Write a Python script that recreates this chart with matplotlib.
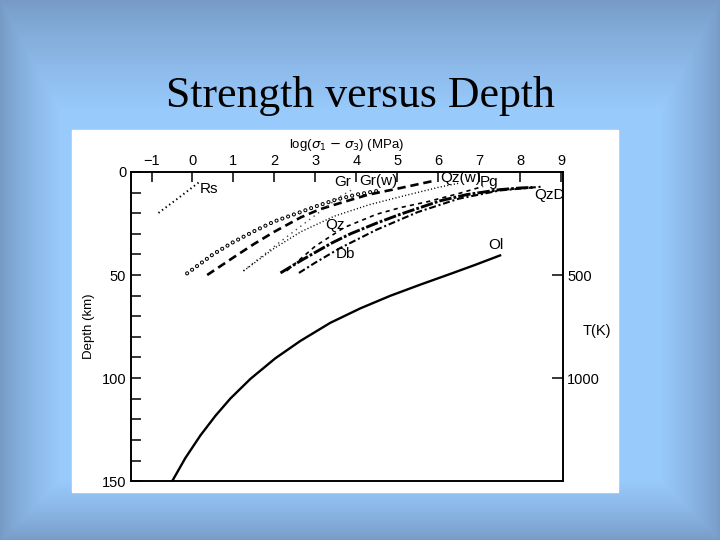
import numpy as np
import matplotlib
matplotlib.use("Agg")
import matplotlib.pyplot as plt
from matplotlib.patches import Rectangle

plt.rcParams["font.family"] = ["Liberation Sans", "DejaVu Sans"]
plt.rcParams["lines.scale_dashes"] = False

# curves: x = log(sigma1 - sigma3) (MPa), d = depth (km)
rs_x = [-0.83, -0.3, 0.2]
rs_d = [19.9, 12.0, 4.4]

grw_x = [-0.13, 0.5, 1.0, 1.5, 2.0, 2.65, 3.0, 3.46, 4.0, 4.6]
grw_d = [49.2, 40.0, 34.0, 28.8, 24.0, 19.4, 16.8, 13.7, 11.0, 8.9]

qzw_x = [0.36, 1.0, 1.5, 2.0, 2.65, 3.1, 3.62, 4.3, 5.08, 5.9]
qzw_d = [50.0, 41.5, 35.0, 29.0, 22.0, 18.2, 15.0, 11.0, 7.8, 4.3]

gr_x = [1.24, 2.07, 2.8, 3.3, 3.6, 3.95]
gr_d = [48.0, 35.0, 24.0, 16.5, 12.0, 8.0]

qz_x = [1.25, 2.0, 2.65, 3.46, 4.3, 5.08, 6.0, 6.5]
qz_d = [48.0, 37.0, 29.0, 21.5, 16.0, 12.0, 7.5, 5.5]

pg_x = [2.3, 3.0, 3.7, 4.5, 5.1, 5.73, 6.5, 7.1]
pg_d = [48.0, 36.0, 27.0, 20.5, 17.2, 14.5, 10.5, 7.0]

qzd_x = [2.15, 2.65, 3.0, 3.4, 3.86, 4.5, 5.08, 6.05, 6.7, 7.5, 8.0, 8.3]
qzd_d = [49.0, 43.0, 39.0, 34.5, 30.0, 24.8, 20.5, 14.0, 11.0, 8.6, 7.8, 7.5]

db_x = [2.6, 3.0, 3.6, 4.5, 5.5, 6.5, 7.5, 8.5]
db_d = [49.0, 44.0, 37.0, 28.0, 19.5, 13.0, 9.0, 7.2]

ol_x = [-0.495, -0.171, 0.195, 0.561, 0.927, 1.415, 2.024, 2.634,
        3.366, 4.098, 4.829, 5.561, 6.293, 6.902, 7.512]
ol_d = [150, 138.7, 127.8, 118.3, 109.9, 100.4, 90.4, 82.0,
        73.2, 66.2, 60.1, 54.7, 49.5, 45.1, 40.5]

labels = ["Rs", "Gr", "Gr(w)", "Qz(w)", "Pg", "QzD", "Qz", "Db", "Ol"]
label_x = [0.4, 3.68, 4.54, 6.56, 7.24, 8.73, 3.49, 3.73, 7.41]
label_d = [8.3, 4.9, 4.4, 2.9, 4.9, 11.2, 25.7, 39.8, 35.4]

x_ticks = [-1, 0, 1, 2, 3, 4, 5, 6, 7, 8, 9]
depth_ticks = [0, 50, 100, 150]
temp_ticks = [500, 1000]

fig = plt.figure(figsize=(7.2, 5.4), dpi=100)

# slide background: light blue centre, darker frame
bg = fig.add_axes([0, 0, 1, 1])
h, w = 540, 720
yy, xx = np.mgrid[0:h, 0:w]
dist = np.minimum.reduce([xx / 60.0, (w - xx) / 60.0, yy / 110.0, (h - yy) / 60.0])
t = np.clip(dist, 0, 1) ** 0.8
edge = np.array([118, 154, 196]) / 255.0
centre = np.array([152, 202, 252]) / 255.0
img = edge[None, None, :] * (1 - t[..., None]) + centre[None, None, :] * t[..., None]
bg.imshow(img, aspect="auto", extent=[0, 1, 0, 1])
bg.add_patch(Rectangle((72 / 720, 48 / 540), 546 / 720, 362 / 540, color="white"))
bg.set_xlim(0, 1)
bg.set_ylim(0, 1)
bg.axis("off")
fig.text(0.5, 0.822, "Strength versus Depth", ha="center", va="center",
         family="Liberation Serif", fontsize=31.5)

ax = fig.add_axes([0.182, 0.109, 0.6, 0.5726])
ax.set_facecolor("none")

ax.plot(rs_x, rs_d, color="black", lw=1.4, dashes=(1, 2.2))
# open circles: black dots with white centres
ax.plot(grw_x, grw_d, color="black", lw=3.0, dashes=(0.01, 4.4), dash_capstyle="round")
ax.plot(grw_x, grw_d, color="white", lw=1.5, dashes=(0.01, 4.4), dash_capstyle="round")
ax.plot(qzw_x, qzw_d, color="black", lw=1.9, dashes=(6, 3.5))
ax.plot(gr_x, gr_d, color="#444444", lw=1.0, dashes=(1, 3))
ax.plot(qz_x, qz_d, color="black", lw=1.0, dashes=(0.8, 1.6))
ax.plot(pg_x, pg_d, color="black", lw=1.2, dashes=(3, 3))
ax.plot(qzd_x, qzd_d, color="black", lw=2.1, dashes=(9, 1.5, 2, 1.5))
ax.plot(db_x, db_d, color="black", lw=1.5, dashes=(5, 2, 1.5, 2))
ax.plot(ol_x, ol_d, color="black", lw=1.7)

for name, lx, ld in zip(labels, label_x, label_d):
    ax.text(lx, ld, name, ha="center", va="center", fontsize=11)

ax.set_xlim(-1.5, 9.05)
ax.set_ylim(150, 0)

ax.xaxis.tick_top()
ax.xaxis.set_label_position("top")
ax.set_xticks(x_ticks)
ax.set_xticklabels(["\u22121" if v == -1 else str(v) for v in x_ticks])
ax.tick_params(axis="x", direction="in", length=7, width=1.1, labelsize=10.5, pad=3)
ax.set_xlabel(r"log($\sigma_1$ $-$ $\sigma_3$) (MPa)", fontsize=9.5, labelpad=4)

ax.set_yticks(depth_ticks)
ax.set_yticks(np.arange(0, 151, 10), minor=True)
ax.tick_params(axis="y", which="both", direction="in", length=7, width=1.1,
               labelsize=10.5, right=False)
ax.set_ylabel("Depth (km)", fontsize=9.5, labelpad=5)

ax2 = ax.twinx()
ax2.set_ylim(1500, 0)
ax2.set_yticks(temp_ticks)
ax2.tick_params(axis="y", direction="in", length=8, width=1.1, labelsize=10.5, pad=3)
ax2.text(1.045, 0.485, "T(K)", transform=ax.transAxes, ha="left", va="center", fontsize=10.5)

for a in (ax, ax2):
    for s in a.spines.values():
        s.set_linewidth(1.2)

fig.savefig("out.png", dpi=100)
